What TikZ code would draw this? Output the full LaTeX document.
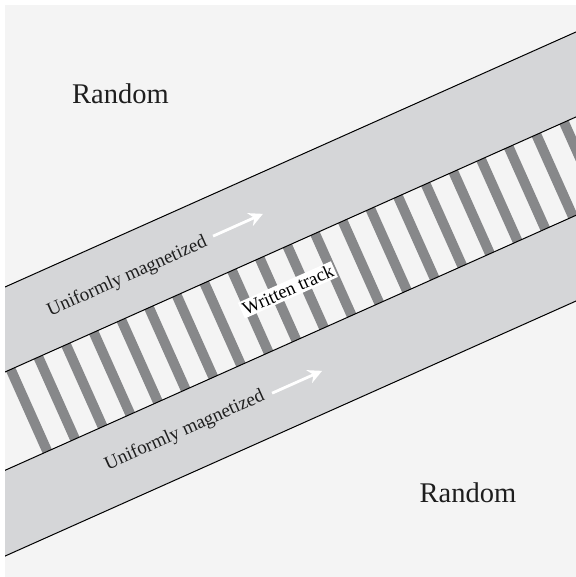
\documentclass[tikz,border=0pt]{standalone}
\usepackage{fontspec}
\setmainfont{Liberation Serif}
\usepackage{xcolor}
\usepackage{tikz}
\usetikzlibrary{arrows.meta}

\definecolor{bggray}{HTML}{F4F4F4}
\definecolor{bandgray}{HTML}{D5D6D8}
\definecolor{stripegray}{HTML}{87888A}
\definecolor{inkgray}{HTML}{1E1E1E}

\begin{document}
\begin{tikzpicture}[
    x=0.5pt, y=0.5pt,
    region label/.style={font=\fontsize{14.25}{17}\selectfont, text=inkgray, anchor=base, inner sep=0pt},
    band label/.style={font=\fontsize{9.5}{11}\selectfont, text=inkgray, anchor=base, rotate=24.07, inner sep=0pt},
    track label/.style={font=\fontsize{9.3}{11}\selectfont, text=black, fill=white, anchor=base, rotate=24.07, inner sep=1pt},
    mag arrow/.style={white, line width=1.4pt, -{Stealth[length=7pt, width=7pt]}},
    edge line/.style={black, line width=0.5pt},
  ]

  \useasboundingbox (0,0) rectangle (576,577);
  \fill[bggray] (5,0) rectangle (576,572);
  \clip (5,0) rectangle (576,572);

  \begin{scope}[shift={(5,205)}, rotate=24.07]
    % bands and track
    \fill[bandgray] (-150,0) rectangle (750,77.6);
    \fill[bandgray] (-150,-89.8) rectangle (750,-168.1);
    \foreach \k in {0,...,21}
      \fill[stripegray] ({1.24+30.3*\k},-89.8) rectangle ({11.24+30.3*\k},0);

    % edges
    \coordinate (a west) at (-150,77.6);   \coordinate (a east) at (750,77.6);
    \coordinate (b west) at (-150,0);      \coordinate (b east) at (750,0);
    \coordinate (c west) at (-150,-89.8);  \coordinate (c east) at (750,-89.8);
    \coordinate (d west) at (-150,-168.1); \coordinate (d east) at (750,-168.1);
    \draw[edge line] (a west) -- (a east);
    \draw[edge line] (b west) -- (b east);
    \draw[edge line] (c west) -- (c east);
    \draw[edge line] (d west) -- (d east);

    % labels
    \node[band label]  (upper band) at (150.4,32.3)   {Uniformly magnetized};
    \node[band label]  (lower band) at (140.2,-131.6) {Uniformly magnetized};
    \node[track label] (track)      at (291.8,-46.7)  {Written track};

    % magnetization
    \coordinate (upper tail) at (245.4,39.2); \coordinate (upper head) at (300,39.2);
    \coordinate (lower tail) at (235.2,-128.3); \coordinate (lower head) at (290,-128.3);
    \draw[mag arrow] (upper tail) -- (upper head);
    \draw[mag arrow] (lower tail) -- (lower head);
  \end{scope}

  \node[region label] (random top)    at (120.5,473.7) {Random};
  \node[region label] (random bottom) at (468,74.7)    {Random};

\end{tikzpicture}
\end{document}
